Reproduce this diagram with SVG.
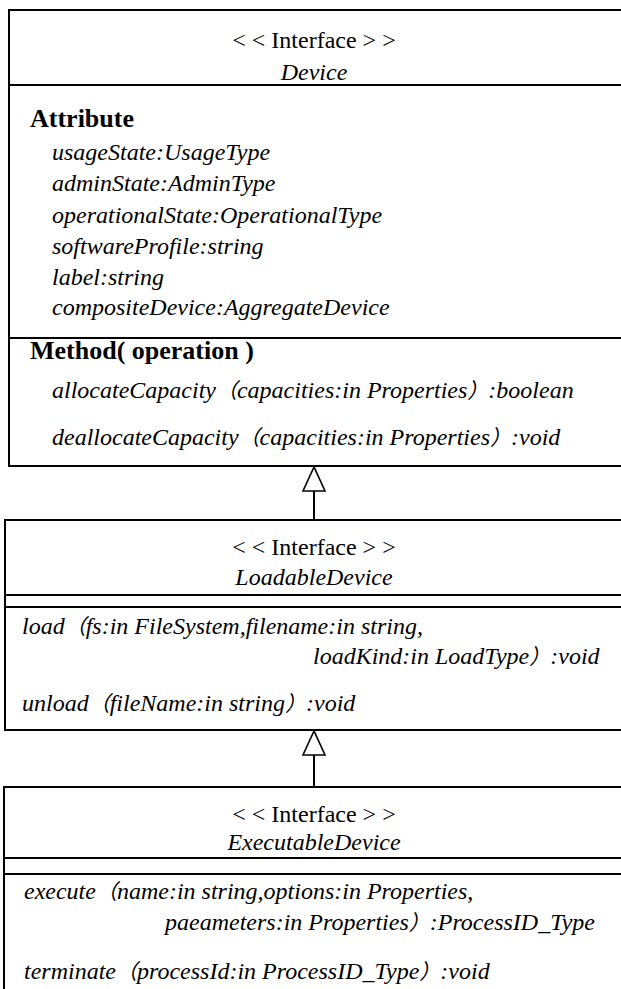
<svg xmlns="http://www.w3.org/2000/svg" width="621" height="989" viewBox="0 0 621 989">
<style>
.box{fill:#fff;stroke:#000;stroke-width:2}
.ln{stroke:#000;stroke-width:2;fill:none}
text{font-family:'Liberation Serif','Times New Roman',serif;font-size:24px;fill:#000}
.cj{font-family:'Noto Sans CJK SC',sans-serif;font-size:21px}
.st{text-anchor:middle}
.nm{text-anchor:middle;font-style:italic}
.it{font-style:italic}
.hd{font-weight:bold;font-size:26px}
.tri{fill:#fff;stroke:#000;stroke-width:1.6}
</style>
<g id="connectors">
<line class="ln" x1="314" y1="491" x2="314" y2="520"/>
<polygon class="tri" points="314,467 303,491 325,491"/>
<line class="ln" x1="314" y1="755" x2="314" y2="787"/>
<polygon class="tri" points="314,731 303,755 325,755"/>
</g>
<g id="device">
<rect class="box" x="9" y="10" width="630" height="456"/>
<line class="ln" x1="9" y1="85" x2="630" y2="85"/>
<line class="ln" x1="9" y1="338" x2="630" y2="338"/>
<text class="st" x="314" y="48">&lt; &lt; Interface &gt; &gt;</text>
<text class="nm" x="314" y="80">Device</text>
<text class="hd" x="30" y="127">Attribute</text>
<text class="it" x="52" y="160">usageState:UsageType</text>
<text class="it" x="52" y="191">adminState:AdminType</text>
<text class="it" x="52" y="223">operationalState:OperationalType</text>
<text class="it" x="52" y="254">softwareProfile:string</text>
<text class="it" x="52" y="285">label:string</text>
<text class="it" x="52" y="315">compositeDevice:AggregateDevice</text>
<text class="hd" x="30" y="359">Method( operation )</text>
<text class="it" x="52" y="398">allocateCapacity<tspan class="cj">（</tspan>capacities:in Properties<tspan class="cj">）</tspan>:boolean</text>
<text class="it" x="52" y="445">deallocateCapacity<tspan class="cj">（</tspan>capacities:in Properties<tspan class="cj">）</tspan>:void</text>
</g>
<g id="loadable">
<rect class="box" x="5" y="520" width="630" height="210"/>
<line class="ln" x1="5" y1="595" x2="630" y2="595"/>
<line class="ln" x1="5" y1="607" x2="630" y2="607"/>
<text class="st" x="314" y="555">&lt; &lt; Interface &gt; &gt;</text>
<text class="nm" x="314" y="585">LoadableDevice</text>
<text class="it" x="22" y="634">load<tspan class="cj">（</tspan>fs:in FileSystem,filename:in string,</text>
<text class="it" x="313" y="664">loadKind:in LoadType<tspan class="cj">）</tspan>:void</text>
<text class="it" x="22" y="711">unload<tspan class="cj">（</tspan>fileName:in string<tspan class="cj">）</tspan>:void</text>
</g>
<g id="executable">
<rect class="box" x="4" y="787" width="630" height="220"/>
<line class="ln" x1="4" y1="858" x2="630" y2="858"/>
<line class="ln" x1="4" y1="874" x2="630" y2="874"/>
<text class="st" x="314" y="822">&lt; &lt; Interface &gt; &gt;</text>
<text class="nm" x="314" y="850">ExecutableDevice</text>
<text class="it" x="24" y="899">execute<tspan class="cj">（</tspan>name:in string,options:in Properties,</text>
<text class="it" x="165" y="930">paeameters:in Properties<tspan class="cj">）</tspan>:ProcessID_Type</text>
<text class="it" x="24" y="979">terminate<tspan class="cj">（</tspan>processId:in ProcessID_Type<tspan class="cj">）</tspan>:void</text>
</g>
</svg>
